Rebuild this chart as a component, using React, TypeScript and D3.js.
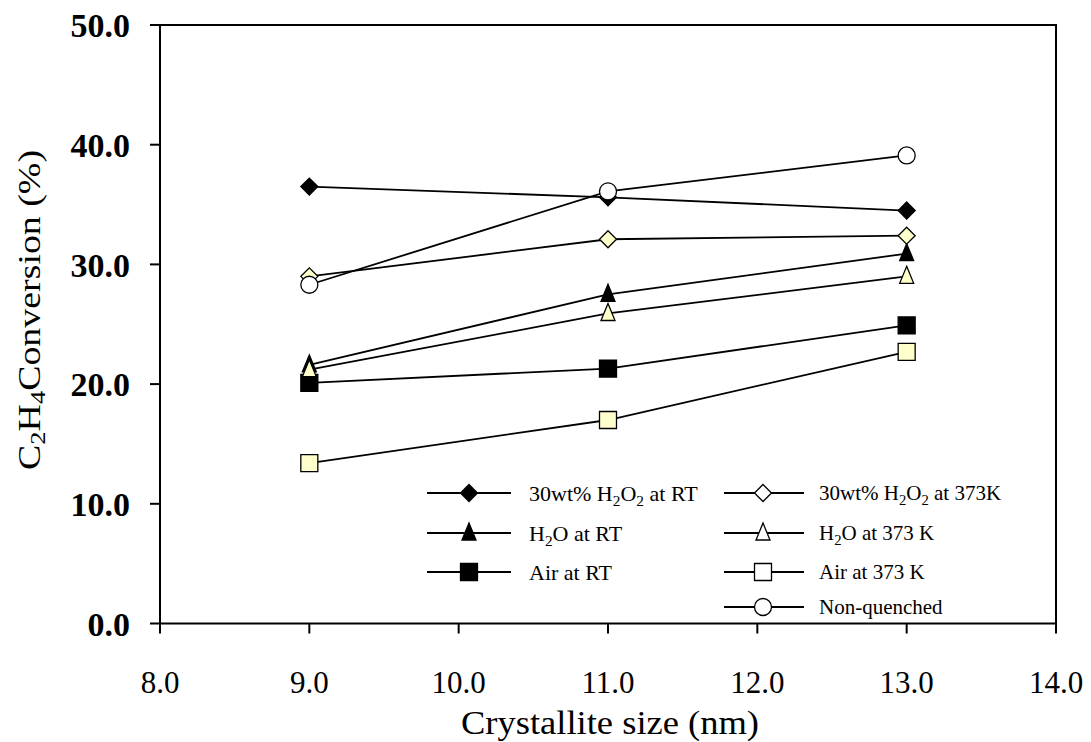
import React from "react";
import * as d3 from "d3";

const crystalliteSizes = [9, 11, 13];
const h2o2RT = [36.5, 35.6, 34.5];
const h2o2K373 = [29.0, 32.1, 32.4];
const waterRT = [21.6, 27.5, 30.9];
const waterK373 = [21.2, 25.9, 29.0];
const airRT = [20.1, 21.3, 24.9];
const airK373 = [13.4, 17.0, 22.7];
const nonQuenched = [28.3, 36.1, 39.1];

const xTicks = [8, 9, 10, 11, 12, 13, 14];
const yTicks = [0, 10, 20, 30, 40, 50];

const YELLOW = "#FFFFCC";

type Shape = "diamond" | "triangle" | "square" | "circle";

const series = [
  { name: "h2o2RT", values: h2o2RT, shape: "diamond" as Shape, fill: "#000" },
  { name: "waterRT", values: waterRT, shape: "triangle" as Shape, fill: "#000" },
  { name: "airRT", values: airRT, shape: "square" as Shape, fill: "#000" },
  { name: "h2o2K373", values: h2o2K373, shape: "diamond" as Shape, fill: YELLOW },
  { name: "waterK373", values: waterK373, shape: "triangle" as Shape, fill: YELLOW },
  { name: "airK373", values: airK373, shape: "square" as Shape, fill: YELLOW },
  { name: "nonQuenched", values: nonQuenched, shape: "circle" as Shape, fill: "#fff" },
];

// shape path centred on (cx, cy)
function marker(shape: Shape, cx: number, cy: number) {
  const p = d3.path();
  if (shape === "diamond") {
    const r = 8.5;
    p.moveTo(cx, cy - r);
    p.lineTo(cx + r, cy);
    p.lineTo(cx, cy + r);
    p.lineTo(cx - r, cy);
    p.closePath();
  } else if (shape === "triangle") {
    p.moveTo(cx, cy - 10);
    p.lineTo(cx + 7, cy + 7);
    p.lineTo(cx - 7, cy + 7);
    p.closePath();
  } else if (shape === "square") {
    p.rect(cx - 8.5, cy - 8.5, 17, 17);
  } else {
    p.arc(cx, cy, 8.5, 0, Math.PI * 2);
    p.closePath();
  }
  return p.toString();
}

const Sub = ({ children }: { children: string }) => (
  <tspan fontSize="0.7em" dy="5">
    {children}
  </tspan>
);

const legendLeft = [
  {
    shape: "diamond" as Shape,
    fill: "#000",
    label: (
      <>
        30wt% H<Sub>2</Sub>
        <tspan dy="-5">O</tspan>
        <Sub>2</Sub>
        <tspan dy="-5"> at RT</tspan>
      </>
    ),
  },
  {
    shape: "triangle" as Shape,
    fill: "#000",
    label: (
      <>
        H<Sub>2</Sub>
        <tspan dy="-5">O at RT</tspan>
      </>
    ),
  },
  { shape: "square" as Shape, fill: "#000", label: <>Air at RT</> },
];

const legendRight = [
  {
    shape: "diamond" as Shape,
    fill: "#fff",
    label: (
      <>
        30wt% H<Sub>2</Sub>
        <tspan dy="-5">O</tspan>
        <Sub>2</Sub>
        <tspan dy="-5"> at 373K</tspan>
      </>
    ),
  },
  {
    shape: "triangle" as Shape,
    fill: "#fff",
    label: (
      <>
        H<Sub>2</Sub>
        <tspan dy="-5">O at 373 K</tspan>
      </>
    ),
  },
  { shape: "square" as Shape, fill: "#fff", label: <>Air at 373 K</> },
  { shape: "circle" as Shape, fill: "#fff", label: <>Non-quenched</> },
];

const App = () => {
  const width = 1091,
    height = 742;
  const left = 160,
    right = 1056,
    top = 25,
    bottom = 623.5;

  const x = d3.scaleLinear().domain([8, 14]).range([left, right]);
  const y = d3.scaleLinear().domain([0, 50]).range([bottom, top]);
  const fmt = d3.format(".1f");

  const line = d3
    .line<number>()
    .x((d, i) => x(crystalliteSizes[i]))
    .y((d) => y(d));

  const rowY = [493, 533, 572, 607];
  const font = "'Liberation Serif', 'Times New Roman', serif";

  return (
    <svg
      width={width}
      height={height}
      style={{ position: "absolute", left: 0, top: 0, background: "#fff" }}
      fontFamily={font}
    >
      {/* frame */}
      <rect x={left} y={top} width={right - left} height={bottom - top} fill="none" stroke="#000" strokeWidth={2} />

      {/* y axis */}
      {yTicks.map((t) => (
        <g key={"y" + t}>
          <line x1={left - 10} x2={left} y1={y(t)} y2={y(t)} stroke="#000" strokeWidth={2} />
          <text x={130} y={y(t)} dy="0.36em" textAnchor="end" fontSize={34} fontWeight={600}>
            {fmt(t)}
          </text>
        </g>
      ))}

      {/* x axis */}
      {xTicks.map((t) => (
        <g key={"x" + t}>
          <line x1={x(t)} x2={x(t)} y1={bottom} y2={bottom + 10} stroke="#000" strokeWidth={2} />
          <text x={x(t)} y={693} textAnchor="middle" fontSize={31}>
            {fmt(t)}
          </text>
        </g>
      ))}

      <text x={610} y={734} textAnchor="middle" fontSize={33} textLength={298} lengthAdjust="spacingAndGlyphs">
        Crystallite size (nm)
      </text>
      <text
        transform="translate(40,310) rotate(-90)"
        textAnchor="middle"
        fontSize={31}
        textLength={320}
        lengthAdjust="spacingAndGlyphs"
      >
        C<Sub>2</Sub>
        <tspan dy="-5">H</tspan>
        <Sub>4</Sub>
        <tspan dy="-5">Conversion (%)</tspan>
      </text>

      {/* series */}
      {series.map((s) => (
        <g key={s.name}>
          <path d={line(s.values) || ""} fill="none" stroke="#000" strokeWidth={1.8} />
          {s.values.map((v, i) => (
            <path
              key={i}
              d={marker(s.shape, x(crystalliteSizes[i]), y(v))}
              fill={s.fill}
              stroke="#000"
              strokeWidth={1.3}
            />
          ))}
        </g>
      ))}

      {/* legend */}
      {legendLeft.map((l, i) => (
        <g key={"ll" + i}>
          <line x1={427} x2={511} y1={rowY[i]} y2={rowY[i]} stroke="#000" strokeWidth={1.8} />
          <path d={marker(l.shape, 469, rowY[i])} fill={l.fill} stroke="#000" strokeWidth={1.3} />
          <text x={529} y={rowY[i]} dy="0.35em" fontSize={22}>
            {l.label}
          </text>
        </g>
      ))}
      {legendRight.map((l, i) => (
        <g key={"lr" + i}>
          <line x1={724} x2={804} y1={rowY[i]} y2={rowY[i]} stroke="#000" strokeWidth={1.8} />
          <path d={marker(l.shape, 763, rowY[i])} fill={l.fill} stroke="#000" strokeWidth={1.3} />
          <text x={819} y={rowY[i]} dy="0.35em" fontSize={21}>
            {l.label}
          </text>
        </g>
      ))}
    </svg>
  );
};

export default App;
